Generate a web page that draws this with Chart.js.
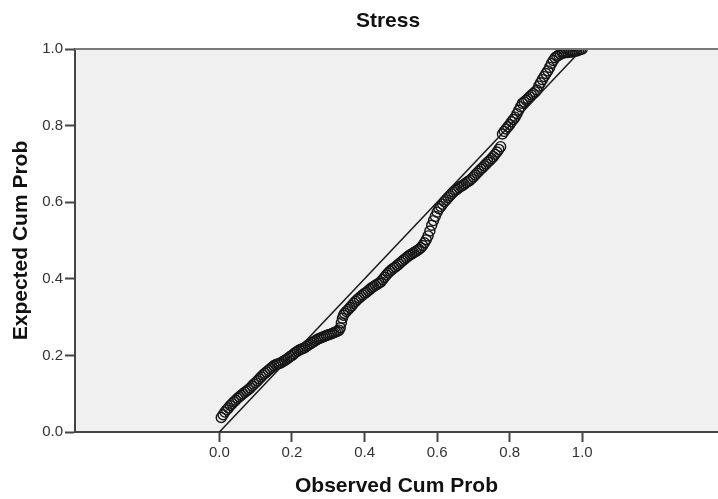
<!DOCTYPE html>
<html>
<head>
<meta charset="utf-8">
<title>Stress P-P Plot</title>
<script src="https://cdn.jsdelivr.net/npm/chart.js@4/dist/chart.umd.min.js"></script>
<style>
    html, body { margin: 0; padding: 0; background: #ffffff; }
    #wrap { width: 718px; height: 499px; position: relative; }
</style>
</head>
<body>
<div id="wrap"><canvas id="ppChart"></canvas></div>
<script>
// Observed vs expected cumulative probabilities for Stress
const observedCumProb = [
    0.005, 0.010, 0.015, 0.020, 0.025, 0.030, 0.035, 0.040, 0.045, 0.050,
    0.055, 0.060, 0.065, 0.070, 0.075, 0.080, 0.085, 0.090, 0.095, 0.100,
    0.105, 0.110, 0.115, 0.120, 0.125, 0.130, 0.135, 0.140, 0.145, 0.150,
    0.155, 0.160, 0.165, 0.170, 0.175, 0.180, 0.185, 0.190, 0.195, 0.200,
    0.205, 0.210, 0.215, 0.220, 0.225, 0.230, 0.235, 0.240, 0.245, 0.250,
    0.255, 0.260, 0.265, 0.270, 0.275, 0.280, 0.285, 0.290, 0.295, 0.300,
    0.305, 0.310, 0.315, 0.320, 0.325, 0.330, 0.333, 0.336, 0.339, 0.342,
    0.345, 0.350, 0.355, 0.360, 0.365, 0.370, 0.375, 0.380, 0.385, 0.390,
    0.395, 0.400, 0.405, 0.410, 0.415, 0.420, 0.425, 0.430, 0.435, 0.440,
    0.445, 0.450, 0.455, 0.460, 0.465, 0.470, 0.475, 0.480, 0.485, 0.490,
    0.495, 0.500, 0.505, 0.510, 0.515, 0.520, 0.525, 0.530, 0.535, 0.540,
    0.545, 0.550, 0.555, 0.560, 0.565, 0.570, 0.575, 0.580, 0.585, 0.590,
    0.595, 0.600, 0.605, 0.610, 0.615, 0.620, 0.625, 0.630, 0.635, 0.640,
    0.645, 0.650, 0.655, 0.660, 0.665, 0.670, 0.675, 0.680, 0.685, 0.690,
    0.695, 0.700, 0.705, 0.710, 0.715, 0.720, 0.725, 0.730, 0.735, 0.740,
    0.745, 0.750, 0.755, 0.760, 0.765, 0.770, 0.775, 0.780, 0.785, 0.790,
    0.795, 0.800, 0.805, 0.810, 0.815, 0.820, 0.825, 0.830, 0.835, 0.840,
    0.845, 0.850, 0.855, 0.860, 0.865, 0.870, 0.875, 0.880, 0.885, 0.890,
    0.895, 0.900, 0.905, 0.910, 0.915, 0.920, 0.925, 0.930, 0.935, 0.940,
    0.945, 0.950, 0.955, 0.960, 0.965, 0.970, 0.975, 0.980, 0.985, 0.990,
    0.995, 1.000
];
const expectedCumProb = [
    0.038, 0.045, 0.052, 0.058, 0.063, 0.069, 0.074, 0.079, 0.083, 0.088,
    0.092, 0.096, 0.100, 0.104, 0.107, 0.111, 0.115, 0.120, 0.125, 0.129,
    0.134, 0.139, 0.144, 0.149, 0.153, 0.157, 0.161, 0.165, 0.169, 0.173,
    0.176, 0.178, 0.179, 0.181, 0.184, 0.187, 0.190, 0.193, 0.197, 0.200,
    0.204, 0.208, 0.211, 0.214, 0.216, 0.218, 0.220, 0.224, 0.227, 0.230,
    0.233, 0.236, 0.239, 0.242, 0.244, 0.246, 0.248, 0.250, 0.252, 0.254,
    0.255, 0.257, 0.259, 0.261, 0.263, 0.266, 0.272, 0.285, 0.297, 0.305,
    0.310, 0.315, 0.320, 0.325, 0.330, 0.336, 0.341, 0.346, 0.350, 0.354,
    0.358, 0.362, 0.365, 0.369, 0.373, 0.377, 0.380, 0.383, 0.386, 0.389,
    0.392, 0.398, 0.404, 0.410, 0.415, 0.420, 0.424, 0.428, 0.431, 0.435,
    0.439, 0.443, 0.447, 0.451, 0.455, 0.459, 0.462, 0.465, 0.468, 0.471,
    0.474, 0.477, 0.481, 0.487, 0.494, 0.502, 0.512, 0.525, 0.540, 0.552,
    0.563, 0.574, 0.583, 0.589, 0.595, 0.601, 0.606, 0.612, 0.617, 0.622,
    0.627, 0.631, 0.634, 0.638, 0.641, 0.644, 0.647, 0.651, 0.654, 0.657,
    0.661, 0.666, 0.671, 0.676, 0.681, 0.686, 0.690, 0.695, 0.700, 0.705,
    0.709, 0.714, 0.719, 0.725, 0.731, 0.738, 0.745, 0.778, 0.785, 0.791,
    0.797, 0.803, 0.810, 0.816, 0.822, 0.831, 0.840, 0.849, 0.858, 0.862,
    0.866, 0.870, 0.875, 0.880, 0.884, 0.888, 0.893, 0.903, 0.912, 0.920,
    0.928, 0.936, 0.943, 0.952, 0.962, 0.970, 0.977, 0.981, 0.984, 0.987,
    0.989, 0.990, 0.991, 0.991, 0.992, 0.992, 0.993, 0.994, 0.995, 0.997,
    0.999, 1.000
];

// diagonal reference line (perfect normal fit)
const refLineX = [0, 1];
const refLineY = [0, 1];

const xTicks = [0.0, 0.2, 0.4, 0.6, 0.8, 1.0];
const yTicks = [0.0, 0.2, 0.4, 0.6, 0.8, 1.0];
const xRange = [-0.398, 1.374];

const FONT = '"Liberation Sans", Arial, sans-serif';

// grey plot background + top frame line + chart title
const plotFrame = {
    id: 'plotFrame',
    beforeDraw(chart) {
        const { ctx, chartArea: a } = chart;
        ctx.save();
        ctx.fillStyle = '#f0f0f0';
        ctx.fillRect(a.left, a.top, a.right - a.left, a.bottom - a.top);
        ctx.restore();
    },
    afterDraw(chart) {
        const { ctx, chartArea: a } = chart;
        ctx.save();
        ctx.strokeStyle = '#7a7a7a';
        ctx.lineWidth = 2;
        ctx.beginPath();
        ctx.moveTo(a.left, a.top);
        ctx.lineTo(a.right, a.top);
        ctx.stroke();

        ctx.fillStyle = '#111';
        ctx.font = 'bold 21px ' + FONT;
        ctx.textAlign = 'center';
        ctx.textBaseline = 'middle';
        ctx.fillText('Stress', 388, 21);
        ctx.restore();
    }
};

const ctx = document.getElementById('ppChart').getContext('2d');
new Chart(ctx, {
    type: 'scatter',
    data: {
        datasets: [
            {
                type: 'line',
                data: refLineX.map((x, i) => ({ x: x, y: refLineY[i] })),
                borderColor: '#1a1a1a',
                borderWidth: 1.5,
                pointRadius: 0,
                fill: false
            },
            {
                data: observedCumProb.map((x, i) => ({ x: x, y: expectedCumProb[i] })),
                pointStyle: 'circle',
                pointRadius: 5,
                pointBorderWidth: 1.4,
                pointBorderColor: '#151515',
                pointBackgroundColor: 'rgba(0,0,0,0)'
            }
        ]
    },
    options: {
        responsive: true,
        maintainAspectRatio: false,
        animation: false,
        layout: { autoPadding: false, padding: { top: 49, right: 0, left: 0, bottom: 0 } },
        plugins: {
            legend: { display: false },
            tooltip: { enabled: false }
        },
        scales: {
            x: {
                type: 'linear',
                min: xRange[0],
                max: xRange[1],
                afterBuildTicks: scale => { scale.ticks = xTicks.map(v => ({ value: v })); },
                afterFit: scale => { scale.height = 67; },
                ticks: {
                    autoSkip: false,
                    maxRotation: 0,
                    padding: 2,
                    color: '#333',
                    font: { family: FONT, size: 15 },
                    callback: v => v.toFixed(1)
                },
                grid: {
                    drawOnChartArea: false,
                    drawTicks: true,
                    tickLength: 10,
                    tickColor: '#444',
                    tickWidth: 2
                },
                border: { color: '#444', width: 2 },
                title: {
                    display: true,
                    text: 'Observed Cum Prob',
                    color: '#111',
                    font: { family: FONT, size: 21, weight: 'bold' },
                    padding: { top: 0, bottom: 0 }
                }
            },
            y: {
                type: 'linear',
                min: 0,
                max: 1,
                afterBuildTicks: scale => { scale.ticks = yTicks.map(v => ({ value: v })); },
                afterFit: scale => { scale.width = 75; },
                ticks: {
                    autoSkip: false,
                    padding: 2,
                    color: '#333',
                    font: { family: FONT, size: 15 },
                    callback: v => v.toFixed(1)
                },
                grid: {
                    drawOnChartArea: false,
                    drawTicks: true,
                    tickLength: 10,
                    tickColor: '#444',
                    tickWidth: 2
                },
                border: { color: '#444', width: 2 },
                title: {
                    display: true,
                    text: 'Expected Cum Prob',
                    color: '#111',
                    font: { family: FONT, size: 21, weight: 'bold' },
                    padding: { top: 9, bottom: 0 }
                }
            }
        }
    },
    plugins: [plotFrame]
});
</script>
</body>
</html>
